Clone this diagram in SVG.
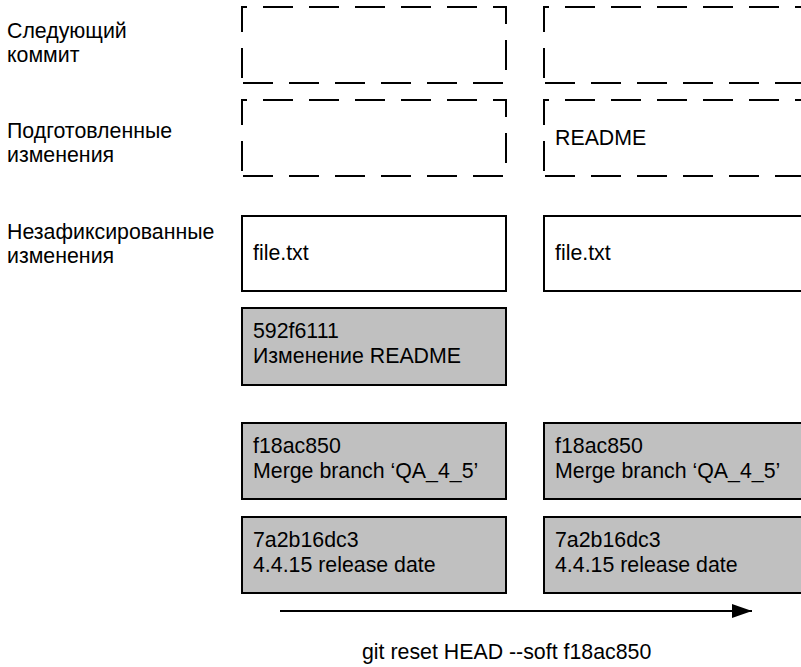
<svg xmlns="http://www.w3.org/2000/svg" width="801" height="667" viewBox="0 0 801 667">
<style>
text{font-family:"Liberation Sans",Arial,sans-serif;font-size:21.33px;fill:#000}
.dash{fill:none;stroke:#000;stroke-width:2;stroke-dasharray:30 16;stroke-dashoffset:41}
.white{fill:#fff;stroke:#000;stroke-width:2}
.gray{fill:#c0c0c0;stroke:#000;stroke-width:2}
</style>
<defs>
<marker id="arr" markerWidth="20" markerHeight="14" refX="20" refY="7" orient="auto" markerUnits="userSpaceOnUse">
<path d="M0,0 L20,7 L0,14 Z" fill="#000"/>
</marker>
</defs>
<g id="labels">
<text x="7" y="38">Следующий</text>
<text x="7" y="62">коммит</text>
<text x="7" y="138">Подготовленные</text>
<text x="7" y="162">изменения</text>
<text x="7" y="239">Незафиксированные</text>
<text x="7" y="263">изменения</text>
</g>
<g id="left-next"><path class="dash" d="M242,83 V7 H506 V83 Z"/></g>
<g id="left-staged"><path class="dash" d="M242,176 V100 H506 V176 Z"/></g>
<g id="left-work"><rect class="white" x="242" y="216" width="264" height="75"/><text x="253" y="260">file.txt</text></g>
<g id="left-c592"><rect class="gray" x="242" y="308" width="264" height="77"/><text x="253" y="338">592f6111</text><text x="253" y="363">Изменение README</text></g>
<g id="left-cf18"><rect class="gray" x="242" y="423" width="264" height="76"/><text x="253" y="453">f18ac850</text><text x="253" y="478">Merge branch ‘QA_4_5’</text></g>
<g id="left-c7a2"><rect class="gray" x="242" y="517" width="264" height="76"/><text x="253" y="547">7a2b16dc3</text><text x="253" y="572">4.4.15 release date</text></g>
<g id="right-next"><path class="dash" d="M544,83 V7 H808 V83 Z"/></g>
<g id="right-staged"><path class="dash" d="M544,176 V100 H808 V176 Z"/><text x="555" y="145">README</text></g>
<g id="right-work"><rect class="white" x="544" y="216" width="264" height="75"/><text x="555" y="260">file.txt</text></g>
<g id="right-cf18"><rect class="gray" x="544" y="423" width="264" height="76"/><text x="555" y="453">f18ac850</text><text x="555" y="478">Merge branch ‘QA_4_5’</text></g>
<g id="right-c7a2"><rect class="gray" x="544" y="517" width="264" height="76"/><text x="555" y="547">7a2b16dc3</text><text x="555" y="572">4.4.15 release date</text></g>
<g id="connectors">
<line x1="280" y1="611" x2="752" y2="611" stroke="#000" stroke-width="2" marker-end="url(#arr)"/>
</g>
<text x="362" y="659">git reset HEAD --soft f18ac850</text>
</svg>
